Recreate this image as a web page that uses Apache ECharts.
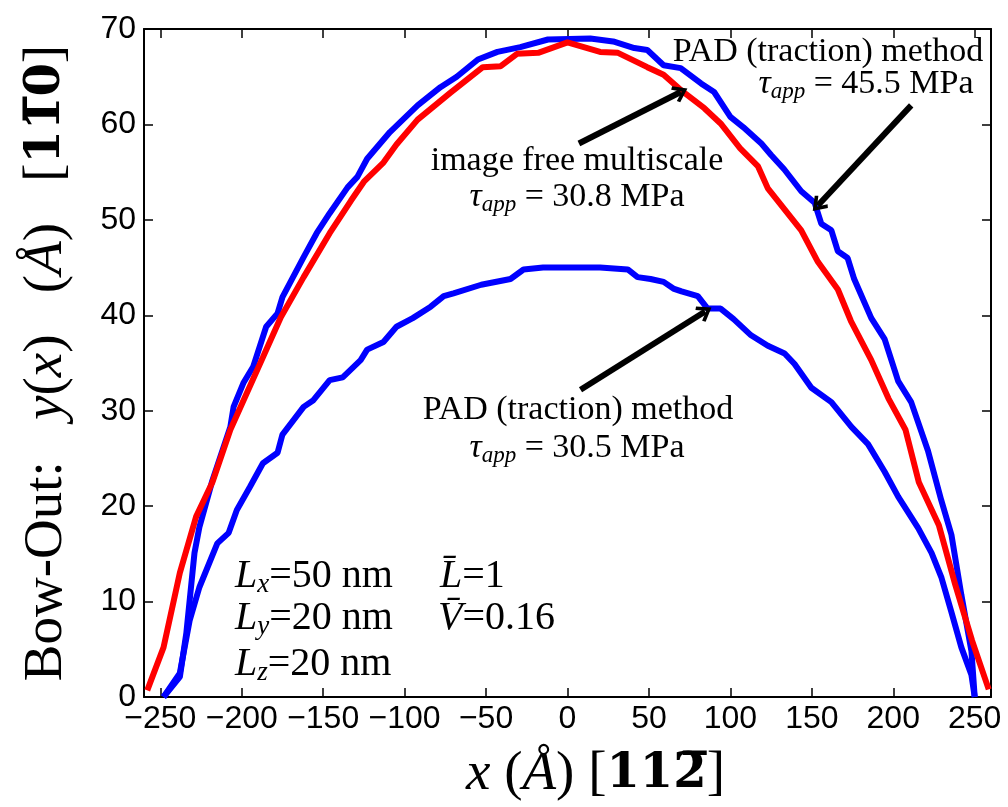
<!DOCTYPE html>
<html>
<head>
<meta charset="utf-8">
<script src="https://cdn.jsdelivr.net/npm/echarts@6/dist/echarts.min.js"></script>
<style>
html, body { margin: 0; padding: 0; background: #fff; }
#chart { width: 1008px; height: 807px; }
</style>
</head>
<body>
<div id="chart"></div>
<script>
// tick labels
var xTicks = [-250, -200, -150, -100, -50, 0, 50, 100, 150, 200, 250];

// PAD (traction) method, tau = 45.5 MPa
var pad455X = [-248,-238,-234,-229,-226,-218,-207,-205,-199,-193,-185,-178,-175,-162,-154,-146,-135,-129,-123,-109,-92,-78,-68,-55,-43,-29,-12,14,28,41,49,59,69.5,82,90,100,108,119,125,133,143.5,151.7,155.8,162,166,172,176,186.5,194.7,203,211,221.3,229.5,235.7,241.8,248,250];
var pad455Y = [0,2.1,6.7,15.1,17.8,22.7,28.3,30.4,32.9,34.6,38.8,40.2,41.9,46.1,48.6,50.7,53.4,54.5,56.4,59.2,62,63.9,65,66.8,67.6,68.1,68.9,69,68.7,68,67.8,66.2,65.9,64.3,63.4,60.8,59.7,58,56.8,55.3,53,51.8,49.6,48.9,46.7,46,43.8,39.7,37.5,33.1,30.9,25.8,20.6,17,10.7,4.8,0];

// PAD (traction) method, tau = 30.5 MPa
var pad305X = [-248,-238,-232,-226,-215,-208,-203,-195,-187,-178,-175,-162,-156,-146,-138,-127,-123,-113,-105,-95,-84,-76,-70,-53,-35,-27,-15,20,37,43,51,59,65,70,80,86,94,102,112.7,123,133.3,139.4,149.7,162,174.3,184.5,194.7,203,215.3,223.5,229.6,235.7,241.8,248,250];
var pad305Y = [0,2.5,8,11.5,16.1,17.2,19.6,22,24.5,25.6,27.5,30.4,31.1,33.2,33.5,35.3,36.4,37.2,38.8,39.7,40.9,42,42.3,43.2,43.8,44.8,45,45,44.8,44,43.8,43.5,42.8,42.5,42,40.7,40.7,39.6,37.9,36.8,36,34.9,32.4,30.9,28.3,26.5,23.6,21,17.7,15.1,12.5,8.9,5.2,2.3,0];

// image free multiscale, tau = 30.8 MPa
var ifmX = [-258,-248,-238,-228,-218,-207,-187,-176,-162,-146,-133,-125,-113,-105,-92,-72,-52,-41,-31,-18,0,20,31,49,59,71,84,94,106,117,123,143.5,153.7,166,174,186.5,197,207.5,215.7,228,238,248.4,258.6];
var ifmY = [0.7,5.2,13,18.9,22.5,28,35.6,39.8,44,48.6,52,54,56,57.9,60.5,63.3,66,66.1,67.4,67.5,68.6,67.6,67.5,66,65.2,63.4,61.7,60.1,57.5,55.6,53.3,48.9,45.6,42.7,39.4,35.3,31.3,28,22.5,18,11.8,5.9,0.8];

// annotation arrows in data units: [tail, head]
var arrow455 = [[211, 62], [153.7, 51.5]];
var arrowIfm = [[7, 58], [69.5, 63.4]];
var arrow305 = [[8, 32.2], [84.5, 40.4]];

function zip(xs, ys) {
    return xs.map(function (x, i) { return [x, ys[i]]; });
}

var serif = 'Liberation Serif';
var txtColor = '#1a1a1a';
function richSet(size) {
    return {
        r: { fontFamily: serif, fontSize: size, color: txtColor },
        i: { fontFamily: serif, fontStyle: 'italic', fontSize: size, color: txtColor },
        s: { fontFamily: serif, fontStyle: 'italic', fontSize: Math.round(size * 0.68), color: txtColor,
             padding: [Math.round(size * 0.45), 0, 0, 0] }
    };
}
var rich = richSet(34);
var richBig = richSet(40);
var nameRich = {
    r: { fontFamily: serif, fontSize: 55, color: '#000' },
    i: { fontFamily: serif, fontStyle: 'italic', fontSize: 55, color: '#000' },
    b: { fontFamily: 'DejaVu Serif', fontWeight: 'bold', fontSize: 48, color: '#000' }
};

function note(text, x, y, align, r) {
    return {
        type: 'text', x: x, y: y, z: 50,
        style: { text: text, rich: r || rich, align: align || 'center', verticalAlign: 'middle' }
    };
}

var arrowHead = 'path://M10,0 L20,13 L17,15.5 L10,6.5 L3,15.5 L0,13 Z';

function arrowLine(a) {
    return [{ coord: a[0] }, { coord: a[1] }];
}

var axisBase = {
    type: 'value',
    axisLine: { show: true, onZero: false, lineStyle: { color: '#000', width: 2 } },
    splitLine: { show: false }
};

var myChart = echarts.init(document.getElementById('chart'));
myChart.setOption({
    animation: false,
    backgroundColor: '#fff',
    grid: { left: 144, right: 17, top: 29, bottom: 110 },
    xAxis: [
        Object.assign({}, axisBase, {
            min: -260, max: 260, position: 'bottom',
            axisTick: { inside: true, length: 9, customValues: xTicks, lineStyle: { color: '#000', width: 1.5 } },
            axisLabel: {
                customValues: xTicks, color: '#000', fontFamily: 'Liberation Sans', fontSize: 32, margin: 6,
                formatter: function (v) { return v < 0 ? '\u2212' + Math.abs(v) : String(v); }
            },
            name: '{i|x}{r| (}{i|Å}{r|) [}{b|112\u0305}{r|]}',
            nameLocation: 'middle', nameGap: 50,
            nameTextStyle: { rich: nameRich, padding: [0, 0, 0, 56] }
        }),
        Object.assign({}, axisBase, {
            min: -260, max: 260, position: 'top',
            axisTick: { inside: true, length: 9, customValues: xTicks, lineStyle: { color: '#000', width: 1.5 } },
            axisLabel: { show: false }
        })
    ],
    yAxis: [
        Object.assign({}, axisBase, {
            min: 0, max: 70, interval: 10, position: 'left',
            axisTick: { inside: true, length: 9, lineStyle: { color: '#000', width: 1.5 } },
            axisLabel: { color: '#000', fontFamily: 'Liberation Sans', fontSize: 32, margin: 8 },
            name: '{r|Bow-Out:   }{i|y}{r|(}{i|x}{r|)   (}{i|Å}{r|)   [}{b|11\u03050}{r|]}',
            nameLocation: 'middle', nameRotate: 90, nameGap: 70,
            nameTextStyle: { rich: nameRich }
        }),
        Object.assign({}, axisBase, {
            min: 0, max: 70, interval: 10, position: 'right',
            axisTick: { inside: true, length: 9, lineStyle: { color: '#000', width: 1.5 } },
            axisLabel: { show: false }
        })
    ],
    series: [
        {
            name: 'PAD 30.5', type: 'line', data: zip(pad305X, pad305Y),
            showSymbol: false, lineStyle: { color: '#0000ff', width: 6 }
        },
        {
            name: 'PAD 45.5', type: 'line', data: zip(pad455X, pad455Y),
            showSymbol: false, lineStyle: { color: '#0000ff', width: 6 }
        },
        {
            name: 'image free multiscale', type: 'line', data: zip(ifmX, ifmY),
            showSymbol: false, lineStyle: { color: '#ff0000', width: 6 },
            markLine: {
                silent: true, animation: false,
                symbol: ['none', arrowHead], symbolSize: [18, 15],
                label: { show: false },
                lineStyle: { color: '#000', width: 6, type: 'solid' },
                data: [arrowLine(arrow455), arrowLine(arrowIfm), arrowLine(arrow305)]
            }
        }
    ],
    graphic: [
        note('{r|PAD (traction) method}', 828, 52),
        note('{i|τ}{s|app}{r| = 45.5 MPa}', 866, 84),
        note('{r|image free multiscale}', 577, 161),
        note('{i|τ}{s|app}{r| = 30.8 MPa}', 577, 197),
        note('{r|PAD (traction) method}', 578, 410),
        note('{i|τ}{s|app}{r| = 30.5 MPa}', 577, 448),
        note('{i|L}{s|x}{r|=50 nm}', 235, 576, 'left', richBig),
        note('{i|L}{s|y}{r|=20 nm}', 235, 618, 'left', richBig),
        note('{i|L}{s|z}{r|=20 nm}', 235, 664, 'left', richBig),
        note('{i|L\u0304}{r|=1}', 440, 576, 'left', richBig),
        note('{i|V\u0304}{r|=0.16}', 438, 618, 'left', richBig)
    ]
});
</script>
</body>
</html>
